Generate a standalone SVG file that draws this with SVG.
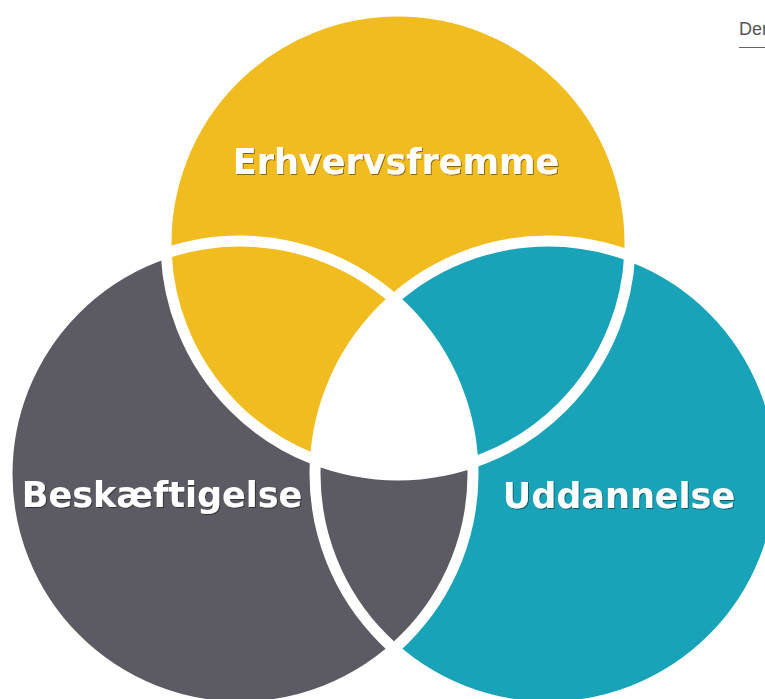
<svg xmlns="http://www.w3.org/2000/svg" width="765" height="699" viewBox="0 0 765 699">
  <style>
    .yellow { fill: #F1BC1F; }
    .gray { fill: #5C5B63; }
    .teal { fill: #19A3B8; }
    .ring { fill: none; stroke: #FFFFFF; stroke-width: 11; }
    .label { font-family: "DejaVu Sans", Verdana, sans-serif; font-weight: bold; font-size: 35px; fill: #FFFFFF; text-anchor: middle; filter: url(#shadow); }
    .corner { font-family: "Liberation Sans", Arial, sans-serif; font-size: 18px; fill: #555555; }
  </style>
  <defs>
    <filter id="shadow" x="-5%" y="-20%" width="110%" height="150%">
      <feDropShadow dx="1" dy="1" stdDeviation="0.6" flood-color="#000000" flood-opacity="0.45"/>
    </filter>
    <clipPath id="clipYellow"><circle cx="398" cy="243" r="232"/></clipPath>
    <clipPath id="clipGray"><circle cx="240" cy="474" r="233"/></clipPath>
  </defs>
  <rect width="765" height="699" fill="#FFFFFF"/>

  <g id="node-uddannelse">
    <circle class="teal" cx="548" cy="474" r="233"/>
    <text class="label" x="619" y="508">Uddannelse</text>
  </g>
  <g id="node-beskaeftigelse">
    <circle class="gray" cx="240" cy="474" r="233"/>
    <text class="label" x="162" y="507">Beskæftigelse</text>
  </g>
  <g id="node-erhvervsfremme">
    <circle class="yellow" cx="398" cy="243" r="232"/>
    <text class="label" x="396" y="174">Erhvervsfremme</text>
  </g>

  <g id="overlaps">
    <circle class="teal" cx="548" cy="474" r="233" clip-path="url(#clipYellow)"/>
    <g clip-path="url(#clipYellow)">
      <circle cx="548" cy="474" r="233" fill="#FFFFFF" clip-path="url(#clipGray)"/>
    </g>
  </g>

  <g id="connectors">
    <circle class="ring" cx="548" cy="474" r="233"/>
    <circle class="ring" cx="240" cy="474" r="233"/>
    <circle class="ring" cx="398" cy="243" r="232"/>
  </g>

  <g id="corner-text">
    <text class="corner" x="739" y="35">Den</text>
    <line x1="739" y1="47.5" x2="765" y2="47.5" stroke="#666666" stroke-width="1"/>
  </g>
</svg>
